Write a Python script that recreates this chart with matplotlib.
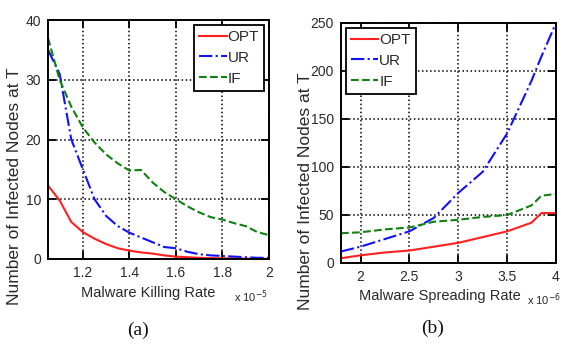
import matplotlib
matplotlib.use("Agg")
import matplotlib.pyplot as plt
import numpy as np

plt.rcParams['font.family'] = ['Liberation Sans', 'DejaVu Sans']

# Panel (a): malware killing rate (x 1e-5)
kill_rate = [1.05, 1.10, 1.15, 1.20, 1.25, 1.30, 1.35, 1.40, 1.45, 1.50, 1.55, 1.60, 1.65, 1.70, 1.75, 1.80, 1.85, 1.90, 1.95, 2.00]
a_opt = [12.3, 9.8, 6.2, 4.5, 3.4, 2.5, 1.8, 1.4, 1.1, 0.9, 0.6, 0.4, 0.3, 0.2, 0.15, 0.1, 0.1, 0.05, 0.05, 0.0]
a_ur = [35.0, 31.0, 20.0, 15.0, 10.0, 7.2, 5.5, 4.4, 3.6, 2.8, 2.0, 1.8, 1.2, 0.8, 0.6, 0.5, 0.4, 0.3, 0.2, 0.2]
a_if = [37.0, 30.0, 25.5, 22.0, 19.5, 17.5, 16.0, 14.8, 14.9, 12.8, 11.2, 10.0, 8.8, 7.8, 7.0, 6.6, 6.0, 5.5, 4.5, 4.0]

# Panel (b): malware spreading rate (x 1e-6)
spread_rate = [1.8, 2.0, 2.25, 2.5, 2.75, 3.0, 3.25, 3.5, 3.75, 3.85, 4.0]
b_opt = [5, 8, 11, 13, 17, 21, 27, 33, 42, 52, 52]
b_ur = [12, 17, 25, 33, 47, 73, 95, 135, 190, 215, 250]
b_if = [31, 32, 35, 37, 43, 45, 48, 50, 60, 70, 72]

series_labels = ['OPT', 'UR', 'IF']
colors = ['#ff2020', '#1010ff', '#108010']
styles = ['-', '-.', '--']

TXT = '#2a2a2a'
W, H = 563, 352

fig = plt.figure(figsize=(5.63, 3.52), dpi=100)
axa = fig.add_axes([48 / W, 1 - 259 / H, (269 - 48) / W, (259 - 20) / H])
axb = fig.add_axes([341 / W, 1 - 263 / H, (556 - 341) / W, (263 - 23) / H])

def style(ax):
    ax.grid(True, color='black', linestyle=':', linewidth=1.1)
    for s in ax.spines.values():
        s.set_linewidth(1.4)
        s.set_color('black')
    ax.tick_params(direction='in', length=6, width=1.3, top=True, right=True,
                   labelsize=10, pad=5, labelcolor=TXT)

def legend(ax, loc):
    leg = ax.legend(loc=loc, fontsize=11, handlelength=1.8, handletextpad=0.05,
                    borderpad=0.35, labelspacing=0.45, fancybox=False, framealpha=1,
                    edgecolor='black', borderaxespad=0.3)
    leg.get_frame().set_linewidth(1.3)
    for t in leg.get_texts():
        t.set_color(TXT)

for ys, c, st, lab in zip([a_opt, a_ur, a_if], colors, styles, series_labels):
    axa.plot(kill_rate, ys, color=c, linestyle=st, linewidth=1.5, label=lab)
axa.set_xlim(1.05, 2.0)
axa.set_ylim(0, 40)
axa.set_xticks([1.2, 1.4, 1.6, 1.8, 2.0])
axa.set_xticklabels(['1.2', '1.4', '1.6', '1.8', '2'])
axa.set_yticks([0, 10, 20, 30, 40])
style(axa)
legend(axa, 'upper right')
fig.text(148 / W, 1 - 293 / H, 'Malware Killing Rate', fontsize=10.5, ha='center', va='center', color=TXT)
fig.text(15 / W, 1 - 305 / H, 'Number of Infected Nodes at T', fontsize=12.5, rotation=90,
         ha='center', va='bottom', color=TXT)
fig.text(234 / W, 1 - 297 / H, 'x 10$^{-5}$', fontsize=8, ha='left', va='center', color=TXT)

for ys, c, st, lab in zip([b_opt, b_ur, b_if], colors, styles, series_labels):
    axb.plot(spread_rate, ys, color=c, linestyle=st, linewidth=1.5, label=lab)
axb.set_xlim(1.8, 4.0)
axb.set_ylim(0, 250)
axb.set_xticks([2, 2.5, 3, 3.5, 4])
axb.set_xticklabels(['2', '2.5', '3', '3.5', '4'])
axb.set_yticks([0, 50, 100, 150, 200, 250])
style(axb)
legend(axb, 'upper left')
fig.text(440 / W, 1 - 296 / H, 'Malware Spreading Rate', fontsize=10.5, ha='center', va='center', color=TXT)
fig.text(305 / W, 1 - 310 / H, 'Number of Infected Nodes at T', fontsize=12.5, rotation=90,
         ha='center', va='bottom', color=TXT)
fig.text(527 / W, 1 - 300 / H, 'x 10$^{-6}$', fontsize=8, ha='left', va='center', color=TXT)

fig.text(138 / W, 1 - 330 / H, '(a)', fontsize=14, ha='center', va='center',
         family=['Liberation Serif'], color='#111111')
fig.text(433 / W, 1 - 328 / H, '(b)', fontsize=14, ha='center', va='center',
         family=['Liberation Serif'], color='#111111')

fig.savefig('out.png', dpi=100)
